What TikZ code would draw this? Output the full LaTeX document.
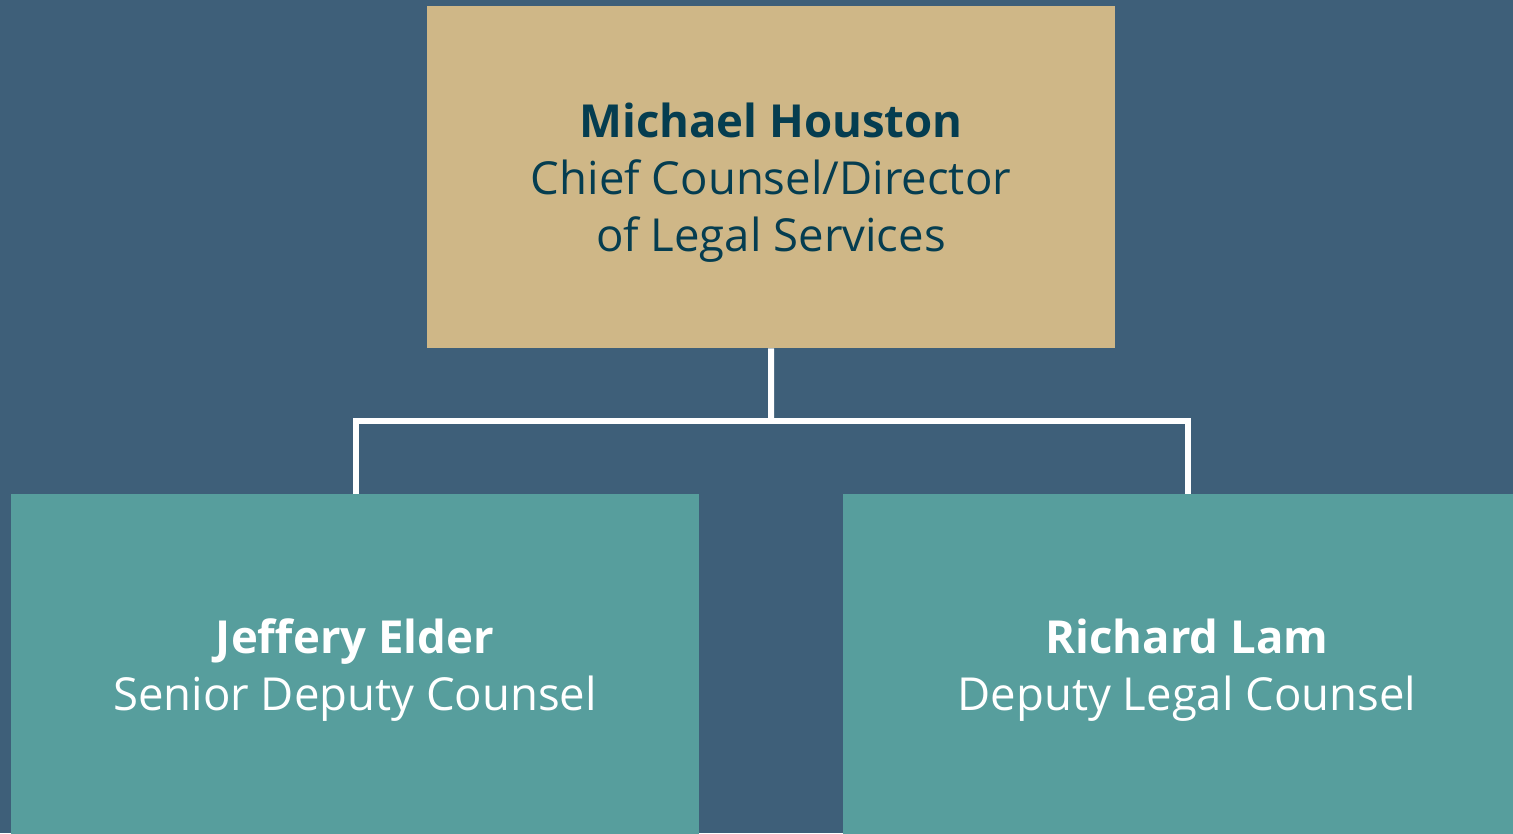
\documentclass[tikz,border=0pt]{standalone}
\usepackage{fontspec}
\setmainfont{Open Sans}
\definecolor{bg}{HTML}{3E5F79}
\definecolor{gold}{HTML}{CFB787}
\definecolor{teal}{HTML}{579E9D}
\definecolor{navy}{HTML}{053D50}
\begin{document}
\begin{tikzpicture}[x=1pt,y=-1pt,
  box/.style={rectangle, inner sep=0pt, anchor=north west},
  lbl/.style={align=center, inner sep=0pt, font=\fontsize{45.5}{57}\selectfont},
  conn/.style={draw=white, line width=6pt}]
\fill[bg] (0,0) rectangle (1513,833);
\useasboundingbox (0,0) rectangle (1513,833);
\node[box, fill=gold, minimum width=688pt, minimum height=342pt] (top) at (427,6) {};
\node[box, fill=teal, minimum width=688pt, minimum height=345pt] (left) at (11,494) {};
\node[box, fill=teal, minimum width=672pt, minimum height=345pt] (right) at (843,494) {};
\node[lbl, text=navy] (toptext) at (771,183) {\textbf{Michael Houston}\\Chief Counsel/Director\\of Legal Services};
\node[lbl, text=white] (lefttext) at (355,670) {\textbf{Jeffery Elder}\\Senior Deputy Counsel};
\node[lbl, text=white] (righttext) at (1187,670) {\textbf{Richard Lam}\\Deputy Legal Counsel};
\coordinate (j) at (771,421);
\coordinate (lt) at (356,494);
\coordinate (rt) at (1188,494);
\draw[conn] (top.south) -- (j);
\draw[conn] (lt) |- (j) -| (rt);
\end{tikzpicture}
\end{document}
